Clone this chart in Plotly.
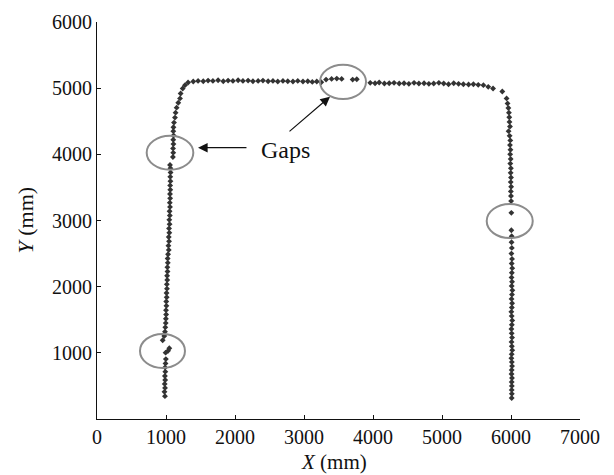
import plotly.graph_objects as go

# Left vertical run, below the first gap (mm)
x_left_low = [985, 978, 986, 981, 988, 984, 990, 986, 993, 998, 994, 1030, 1048]
y_left_low = [345, 410, 470, 530, 590, 650, 715, 780, 840, 905, 1003, 1030, 1070]

# Left vertical run, between the two gaps
x_left_mid = [952, 975, 985, 990, 996, 998, 1002, 1000, 1006, 1004,
              1010, 1008, 1014, 1012, 1018, 1016, 1022, 1020, 1026, 1024,
              1030, 1040, 1035, 1044, 1040, 1048, 1044, 1052, 1048, 1055,
              1052, 1058, 1055, 1060, 1058, 1062, 1060, 1064, 1062, 1066,
              1064, 1058]
y_left_mid = [1190, 1255, 1320, 1385, 1450, 1515, 1580, 1645, 1710, 1775,
              1840, 1905, 1970, 2035, 2100, 2165, 2230, 2295, 2360, 2425,
              2490, 2555, 2620, 2685, 2750, 2815, 2880, 2945, 3010, 3075,
              3140, 3205, 3270, 3335, 3400, 3465, 3530, 3595, 3660, 3725,
              3790, 3840]

# Left vertical run above the gap, curving into the top corridor
x_left_top = [1100, 1105, 1102, 1108, 1105, 1110, 1106, 1108, 1116, 1130,
              1139, 1154, 1178, 1203, 1212, 1242, 1275]
y_left_top = [3960, 4025, 4090, 4155, 4220, 4285, 4350, 4410, 4480, 4555,
              4630, 4705, 4780, 4845, 4920, 4995, 5045]

# Top corridor, left of the gap
x_top_a = [1320, 1395, 1465, 1540, 1610, 1680, 1755, 1830, 1900, 1970,
           2045, 2115, 2190, 2260, 2335, 2405, 2480, 2550, 2620, 2695,
           2765, 2840, 2910, 2985, 3055, 3120, 3185, 3250, 3320, 3400,
           3475, 3546]
y_top_a = [5085, 5100, 5110, 5105, 5115, 5110, 5120, 5105, 5115, 5110,
           5120, 5110, 5115, 5105, 5110, 5115, 5105, 5110, 5100, 5110,
           5105, 5100, 5110, 5100, 5105, 5095, 5100, 5090, 5130, 5140,
           5145, 5140]

# Top corridor, right of the gap
x_top_b = [3705, 3765, 3960, 4030, 4090, 4165, 4235, 4305, 4380, 4450,
           4520, 4595, 4665, 4740, 4810, 4880, 4955, 5025, 5095, 5170,
           5240, 5310, 5385, 5455, 5525, 5600, 5670, 5740, 5874, 5936]
y_top_b = [5130, 5135, 5080, 5075, 5085, 5070, 5075, 5080, 5070, 5075,
           5065, 5080, 5070, 5075, 5065, 5070, 5080, 5070, 5060, 5075,
           5065, 5060, 5055, 5060, 5050, 5045, 5020, 4995, 4950, 4845]

# Right vertical run, above the gap
x_right_top = [5950, 5962, 5970, 5975, 5978, 5985, 5965, 5980, 5990, 5985,
               5992, 5988, 5995, 5990, 5998, 5995, 6000, 5996, 6002, 5998,
               6000, 6002, 6005]
y_right_top = [4770, 4700, 4630, 4560, 4490, 4420, 4350, 4280, 4210, 4140,
               4070, 4000, 3930, 3860, 3790, 3720, 3650, 3580, 3510, 3440,
               3370, 3293, 3116]

# Right vertical run, below the gap
x_right_low = [6005, 6010, 6008, 6012, 6006, 6015, 6010, 6018, 6012, 6008,
               6015, 6010, 6020, 6014, 6008, 6016, 6012, 6005, 6010, 6018,
               6012, 6006, 6010, 6015, 6008, 6012, 6018, 6010, 6006, 6012,
               6015, 6010, 6008, 6014, 6010, 6012, 6010, 6012, 6010]
y_right_low = [2853, 2762, 2671, 2586, 2500, 2420, 2350, 2280, 2210, 2140,
               2075, 2010, 1945, 1880, 1815, 1750, 1685, 1620, 1555, 1490,
               1425, 1360, 1295, 1230, 1165, 1100, 1040, 980, 920, 860,
               800, 740, 680, 620, 560, 500, 440, 380, 318]

# Gap ellipses: (x0, x1, y0, y1) in mm
gap_x0 = [623, 720, 3232, 5648]
gap_x1 = [1275, 1396, 3899, 6315]
gap_y0 = [772, 3767, 4837, 2734]
gap_y1 = [1286, 4281, 5355, 3248]

xs = x_left_low + x_left_mid + x_left_top + x_top_a + x_top_b + x_right_top + x_right_low
ys = y_left_low + y_left_mid + y_left_top + y_top_a + y_top_b + y_right_top + y_right_low

serif = "Liberation Serif, Times New Roman, serif"

fig = go.Figure()
fig.add_trace(go.Scatter(
    x=xs, y=ys, mode="markers",
    marker=dict(symbol="diamond", size=4.5, color="#333333"),
    showlegend=False, hoverinfo="skip"))

for a, b, c, d in zip(gap_x0, gap_x1, gap_y0, gap_y1):
    fig.add_shape(type="circle", xref="x", yref="y", x0=a, x1=b, y0=c, y1=d,
                  line=dict(color="#8c8c8c", width=2))

fig.add_annotation(x=2725, y=4070, text="Gaps", showarrow=False,
                   font=dict(family=serif, size=24, color="#111"))
fig.add_annotation(x=1464, y=4100, ax=2188, ay=4100, axref="x", ayref="y",
                   text="", showarrow=True, arrowhead=2, arrowsize=1.6,
                   arrowwidth=1.2, arrowcolor="#111")
fig.add_annotation(x=3377, y=4871, ax=2768, ay=4327, axref="x", ayref="y",
                   text="", showarrow=True, arrowhead=2, arrowsize=1.6,
                   arrowwidth=1.2, arrowcolor="#111")

# Axis titles as paper-positioned text
fig.add_annotation(xref="paper", yref="paper", x=0.49, y=-0.108,
                   xanchor="center", yanchor="middle", showarrow=False,
                   text="<i>X</i> (mm)", font=dict(family=serif, size=21, color="#111"))
fig.add_annotation(xref="paper", yref="paper", x=-0.149, y=0.5,
                   xanchor="center", yanchor="middle", showarrow=False, textangle=-90,
                   text="<i>Y</i> (mm)", font=dict(family=serif, size=22, color="#111"))

axis_common = dict(showgrid=False, zeroline=False, showline=True,
                   linecolor="#111", linewidth=1.2, ticks="inside",
                   ticklen=4, tickcolor="#111", automargin=False,
                   tickfont=dict(family=serif, size=20, color="#111"))

fig.update_xaxes(range=[0, 7000], tickvals=[0, 1000, 2000, 3000, 4000, 5000, 6000, 7000],
                 **axis_common)
fig.update_yaxes(range=[0, 6000], tickvals=[1000, 2000, 3000, 4000, 5000, 6000],
                 **axis_common)

fig.update_layout(width=614, height=475, margin=dict(l=97, r=34, t=22, b=56),
                  plot_bgcolor="white", paper_bgcolor="white")

fig.write_html("out.html", config={"displayModeBar": False},
               post_script="document.body.style.margin='0';document.body.style.overflow='hidden';")
